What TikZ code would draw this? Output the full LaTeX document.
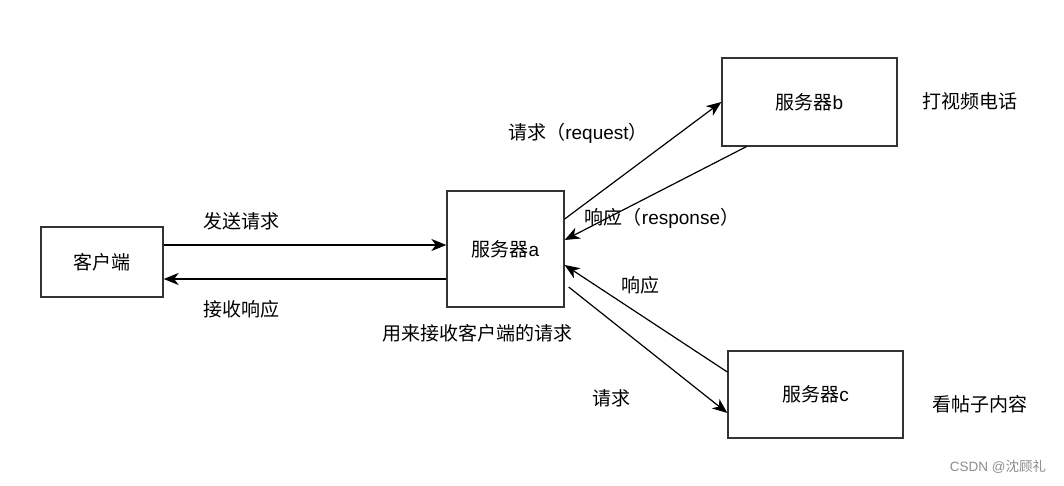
\documentclass[tikz,border=0pt]{standalone}
\usepackage{fontspec}
\setmainfont{Liberation Sans}
\newfontfamily\cjk{Noto Sans CJK SC}
\usetikzlibrary{arrows.meta}

\tikzset{
  box/.style={draw=black!80, line width=1.3pt, fill=white, inner sep=0pt, font=\fontsize{19}{21}\selectfont},
  lbl/.style={inner sep=0pt, font=\fontsize{19}{21}\selectfont},
  conn/.style={line width=1.2pt, -{Stealth[length=15pt,width=12pt,inset=4.5pt]}}
}

\begin{document}
\begin{tikzpicture}[x=1pt,y=-1pt]
\useasboundingbox (0,0) rectangle (1064,486);

\node[box, minimum width=122pt, minimum height=70pt]  (client) at (102,262)   {\cjk 客户端};
\node[box, minimum width=117pt, minimum height=116pt] (srva)   at (505.5,249) {{\cjk 服务器}a};
\node[box, minimum width=175pt, minimum height=88pt]  (srvb)   at (809.5,102) {{\cjk 服务器}b};
\node[box, minimum width=175pt, minimum height=87pt]  (srvc)   at (815.5,394.5) {{\cjk 服务器}c};

% client <-> a
\draw[conn] ([yshift=17pt]client.east) -- ([yshift=4pt]srva.west);
\draw[conn] ([yshift=-30pt]srva.west) -- ([yshift=-17pt]client.east);

% a <-> b
\draw[conn] ([yshift=30pt]srva.east) -- (srvb.west);
\draw[conn] ([xshift=25pt]srvb.south west) -- ([yshift=9pt]srva.east);

% a <-> c
\draw[conn] ([yshift=22.5pt]srvc.west) -- ([yshift=-16pt]srva.east);
\draw[conn] ([xshift=4pt,yshift=-38pt]srva.east) -- ([yshift=-18.5pt]srvc.west);

% labels
\node[lbl] (lsend)  at (241,221) {\cjk 发送请求};
\node[lbl] (lrecv)  at (241,309) {\cjk 接收响应};
\node[lbl] (lnote)  at (477,333) {\cjk 用来接收客户端的请求};
\node[lbl] (lreqb)  at (578,133) {{\cjk 请求（}request{\cjk ）}};
\node[lbl] (lresb)  at (662,218) {{\cjk 响应（}response{\cjk ）}};
\node[lbl] (lresc)  at (640,285) {\cjk 响应};
\node[lbl] (lreqc)  at (611,398) {\cjk 请求};
\node[lbl] (lvideo) at (970,101) {\cjk 打视频电话};
\node[lbl] (lpost)  at (980,404) {\cjk 看帖子内容};
\node[lbl, text=black!45, font=\fontsize{13.5}{15}\selectfont] (mark) at (998,467) {CSDN @{\cjk 沈顾礼}};

\end{tikzpicture}
\end{document}
